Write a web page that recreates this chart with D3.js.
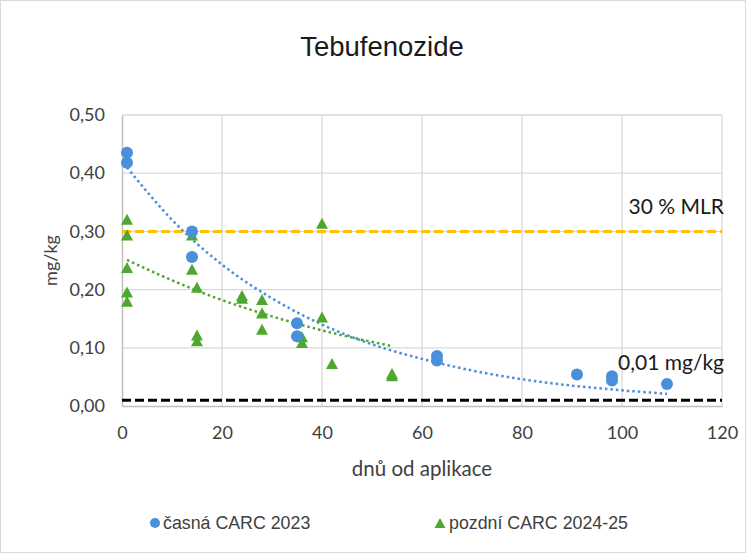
<!DOCTYPE html>
<html>
<head>
<meta charset="utf-8">
<script src="https://cdn.jsdelivr.net/npm/d3@7"></script>
<style>
  html, body { margin: 0; padding: 0; background: #fff; }
  svg { display: block; }
</style>
</head>
<body>
<svg id="chart" width="753" height="559"></svg>
<script>
// Residues of tebufenozide (mg/kg) against days after application
const chartTitle = "Tebufenozide";

const earlyName = "časná CARC 2023";
const earlyDays = [1, 1, 14, 14, 35, 35, 63, 63, 91, 98, 98, 109];
const earlyVals = [0.435, 0.418, 0.300, 0.256, 0.142, 0.120, 0.086, 0.078, 0.054, 0.051, 0.044, 0.038];

const lateName = "pozdní CARC 2024-25";
const lateDays = [1, 1, 1, 1, 1, 14, 14, 15, 15, 15, 24, 24, 28, 28, 28, 36, 36, 40, 40, 42, 54, 54];
const lateVals = [0.321, 0.294, 0.238, 0.196, 0.180, 0.294, 0.235, 0.204, 0.122, 0.112, 0.190, 0.185,
                  0.183, 0.160, 0.132, 0.119, 0.109, 0.314, 0.153, 0.073, 0.056, 0.052];

// Exponential trend curves (points along the fitted curves)
const earlyTrendDays = [1, 10, 20, 30, 40, 50, 60, 70, 80, 90, 100, 109];
const earlyTrendVals = [0.410, 0.320, 0.243, 0.185, 0.140, 0.106, 0.081, 0.061, 0.046, 0.035, 0.027, 0.021];
const lateTrendDays = [1, 10, 20, 30, 40, 54];
const lateTrendVals = [0.251, 0.216, 0.182, 0.154, 0.130, 0.103];

// Reference levels
const mlrLabel = "30 % MLR";
const mlrLevel = 0.30;
const loqLabel = "0,01 mg/kg";
const loqLevel = 0.01;

const xTicks = [0, 20, 40, 60, 80, 100, 120];
const yTicks = [0, 0.1, 0.2, 0.3, 0.4, 0.5];
const xTitle = "dnů od aplikace";
const yTitle = "mg/kg";

const svg = d3.select("#chart");
const plot = { left: 122, right: 722, top: 115, bottom: 406 };

const x = d3.scaleLinear().domain([0, 120]).range([plot.left, plot.right]);
const y = d3.scaleLinear().domain([0, 0.5]).range([plot.bottom, plot.top]);

const blue = "#4A8FDA";
const green = "#4EA72E";
const gold = "#FFC000";
const fmt = d3.format(".2f");
const yFmt = v => fmt(v).replace(".", ",");

// chart frame
svg.append("rect")
  .attr("x", 0.5).attr("y", 0.5).attr("width", 745).attr("height", 552)
  .attr("fill", "#fff").attr("stroke", "#D9D9D9");

// title
svg.append("text")
  .attr("x", 382).attr("y", 56)
  .attr("text-anchor", "middle")
  .attr("font-family", "Liberation Sans, Arial, sans-serif")
  .attr("font-size", 27.5)
  .attr("fill", "#1a1a1a")
  .text(chartTitle);

// gridlines
const grid = svg.append("g").attr("stroke", "#D9D9D9").attr("stroke-width", 1.3);
grid.selectAll("line.h").data(yTicks.slice(1)).join("line")
  .attr("x1", plot.left).attr("x2", plot.right)
  .attr("y1", d => y(d)).attr("y2", d => y(d));
grid.selectAll("line.v").data(xTicks.slice(1)).join("line")
  .attr("x1", d => x(d)).attr("x2", d => x(d))
  .attr("y1", plot.top).attr("y2", plot.bottom);

// axes
const xAxis = svg.append("g")
  .attr("transform", `translate(0,${plot.bottom})`)
  .call(d3.axisBottom(x).tickValues(xTicks).tickSize(0).tickPadding(20).tickFormat(d3.format("d")));
const yAxis = svg.append("g")
  .attr("transform", `translate(${plot.left},0)`)
  .call(d3.axisLeft(y).tickValues(yTicks).tickSize(0).tickPadding(17).tickFormat(yFmt));
[xAxis, yAxis].forEach(a => {
  a.select(".domain").attr("stroke", "#BFBFBF").attr("stroke-width", 1.5);
  a.selectAll("text")
    .attr("font-family", "Lato, sans-serif")
    .attr("font-size", 18)
    .attr("fill", "#404040");
});

// axis titles
svg.append("text")
  .attr("x", x(60)).attr("y", 476)
  .attr("text-anchor", "middle")
  .attr("font-family", "Lato, sans-serif").attr("font-size", 20.5).attr("fill", "#404040")
  .text(xTitle);
svg.append("text")
  .attr("transform", `translate(57,${(plot.top + plot.bottom) / 2}) rotate(-90)`)
  .attr("text-anchor", "middle")
  .attr("font-family", "Lato, sans-serif").attr("font-size", 18).attr("fill", "#404040")
  .text(yTitle);

// reference lines
const refs = [
  { level: loqLevel, color: "#000", label: loqLabel, labelY: 370 },
  { level: mlrLevel, color: gold, label: mlrLabel, labelY: 214 }
];
svg.selectAll("line.ref").data(refs).join("line")
  .attr("x1", x(0)).attr("x2", x(120))
  .attr("y1", d => y(d.level)).attr("y2", d => y(d.level))
  .attr("stroke", d => d.color).attr("stroke-width", 3)
  .attr("stroke-dasharray", "9,4");
svg.selectAll("text.ref").data(refs).join("text")
  .attr("x", 724).attr("y", d => d.labelY)
  .attr("text-anchor", "end")
  .attr("font-family", "Lato, sans-serif").attr("font-size", 21).attr("fill", "#1a1a1a")
  .text(d => d.label);

// trend curves
const trend = d3.line().x(d => x(d[0])).y(d => y(d[1])).curve(d3.curveMonotoneX);
svg.append("path")
  .datum(earlyTrendDays.map((d, i) => [d, earlyTrendVals[i]]))
  .attr("d", trend).attr("fill", "none")
  .attr("stroke", blue).attr("stroke-width", 2.5).attr("stroke-dasharray", "2.5,3");
svg.append("path")
  .datum(lateTrendDays.map((d, i) => [d, lateTrendVals[i]]))
  .attr("d", trend).attr("fill", "none")
  .attr("stroke", green).attr("stroke-width", 2.5).attr("stroke-dasharray", "2.5,3");

// triangle centred on its bounding box
const triangle = {
  draw(ctx, size) {
    const w = Math.sqrt(size), h = w * 0.92;
    ctx.moveTo(0, -h / 2);
    ctx.lineTo(w / 2, h / 2);
    ctx.lineTo(-w / 2, h / 2);
    ctx.closePath();
  }
};

// points
svg.append("g").selectAll("path")
  .data(lateDays.map((d, i) => [d, lateVals[i]]))
  .join("path")
  .attr("transform", d => `translate(${x(d[0])},${y(d[1])})`)
  .attr("d", d3.symbol(triangle, 144))
  .attr("fill", green);
svg.append("g").selectAll("circle")
  .data(earlyDays.map((d, i) => [d, earlyVals[i]]))
  .join("circle")
  .attr("cx", d => x(d[0])).attr("cy", d => y(d[1]))
  .attr("r", 6).attr("fill", blue);

// legend
const legend = svg.append("g")
  .attr("font-family", "Liberation Sans, Arial, sans-serif")
  .attr("font-size", 17.8).attr("fill", "#404040");
legend.append("circle").attr("cx", 155).attr("cy", 523).attr("r", 5).attr("fill", blue);
legend.append("text").attr("x", 163).attr("y", 529).text(earlyName);
legend.append("path")
  .attr("transform", "translate(440,523)")
  .attr("d", d3.symbol(triangle, 121)).attr("fill", green);
legend.append("text").attr("x", 449).attr("y", 529).text(lateName);
</script>
</body>
</html>
